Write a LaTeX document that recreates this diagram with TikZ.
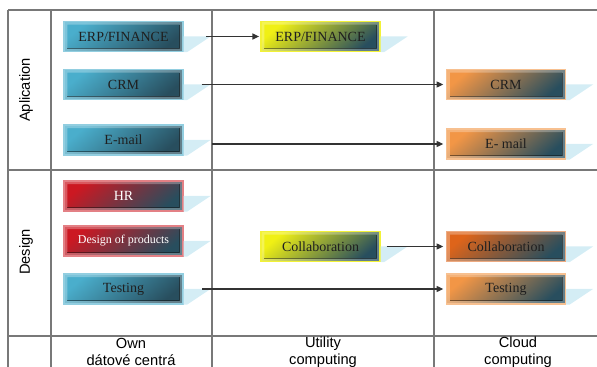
\documentclass[tikz,border=0pt]{standalone}
\usepackage{fontspec}
\setmainfont{Liberation Serif}
\setsansfont{Liberation Sans}
\usetikzlibrary{arrows.meta}
\definecolor{svcblue}{RGB}{74,174,204}
\definecolor{svcred}{RGB}{204,24,34}
\definecolor{svcyellow}{RGB}{240,240,20}
\definecolor{svcorange}{RGB}{242,150,70}
\definecolor{svcburnt}{RGB}{222,100,26}
\definecolor{svcslate}{RGB}{40,78,94}
\definecolor{shadowblue}{RGB}{212,237,245}
\definecolor{gridgray}{RGB}{120,120,120}

\begin{document}
\begin{tikzpicture}[x=0.75pt, y=-0.75pt,
  svcnode/.style={rectangle, font=\fontsize{10.5}{12}\selectfont, text=black!88,
    minimum width=89pt, minimum height=22.5pt, inner sep=0pt, line width=1.1pt,
    path picture={
      \fill[white, opacity=0.28, even odd rule]
        (path picture bounding box.north west) rectangle (path picture bounding box.south east)
        ([shift={(2.4pt,-2.4pt)}]path picture bounding box.north west) rectangle
        ([shift={(-2.4pt,2.4pt)}]path picture bounding box.south east);
      \draw[black, opacity=0.45, line width=0.7pt]
        ([shift={(-2.4pt,-2.4pt)}]path picture bounding box.north east) --
        ([shift={(-2.4pt,2.4pt)}]path picture bounding box.south east) --
        ([shift={(2.4pt,2.4pt)}]path picture bounding box.south west);}},
  bluebox/.style={svcnode, left color=svcblue, middle color=svcblue!88!svcslate, right color=svcslate, shading angle=40, draw=svcblue!60!white},
  redbox/.style={svcnode, left color=svcred, middle color=svcred!80!svcslate, right color=svcslate, shading angle=40, draw=svcred!55!white, text=white},
  yellowbox/.style={svcnode, left color=svcyellow, middle color=svcyellow!85!svcslate, right color=svcslate, shading angle=40, draw=svcyellow!85!white},
  orangebox/.style={svcnode, left color=svcorange, middle color=svcorange!82!svcslate, right color=svcslate, shading angle=40, draw=svcorange!60!white},
  burntbox/.style={svcnode, left color=svcburnt, middle color=svcburnt!82!svcslate, right color=svcslate, shading angle=40, draw=svcburnt!55!white},
  rowlabel/.style={rotate=90, font=\sffamily\fontsize{11}{13}\selectfont},
  collabel/.style={align=center, font=\sffamily\fontsize{11}{12.75}\selectfont},
  flow/.style={-{Triangle[length=5pt,width=4.5pt]}, line width=0.9pt, draw=black!80}]
\useasboundingbox (0,0) rectangle (597,367);
\clip (0,0) rectangle (597,367);
% Grid
\coordinate (c1) at (51,10);
\coordinate (c2) at (212,10);
\coordinate (c3) at (434,10);
\draw[gridgray, line width=1pt] (8,10) -- (597,10) (8,170) -- (597,170) (8,336) -- (597,336);
\draw[gridgray, line width=1pt] (8,10) -- (8,367) (c1) -- (51,367) (c2) -- (212,367) (c3) -- (434,367);
% Row and column titles
\node[rowlabel] (aplic) at (26,90) {Aplication};
\node[rowlabel] (design) at (26,252) {Design};
\node[collabel] (own) at (131,352) {Own\\dátové centrá};
\node[collabel] (utility) at (323,352) {Utility\\computing};
\node[collabel] (cloud) at (518,352) {Cloud\\computing};
% Own data centre
\node[bluebox] (erp) at (123.5,36.5) {ERP/FINANCE};
\node[bluebox] (crm) at (123.5,84.5) {CRM};
\node[bluebox] (mail) at (123.5,140) {E-mail};
\node[redbox] (hr) at (123.5,196) {HR};
\node[redbox, font=\fontsize{9}{11}\selectfont] (dop) at (123.5,241) {Design of products};
\node[bluebox] (test) at (123.5,289) {Testing};
% Utility computing
\node[yellowbox] (erpU) at (320.5,36.5) {ERP/FINANCE};
\node[yellowbox] (collU) at (320.5,246.5) {Collaboration};
% Cloud computing
\node[orangebox] (crmC) at (506,84.5) {CRM};
\node[orangebox] (mailC) at (506,144) {E- mail};
\node[burntbox] (collC) at (506,246.5) {Collaboration};
\node[orangebox] (testC) at (506,289) {Testing};
% Shadows
\foreach \n in {erp,crm,mail,hr,dop,test,erpU,collU,crmC,mailC,collC,testC}
  \fill[shadowblue] (\n.east) -- ++(27,0) -- ([xshift=2.5pt]\n.south east) -- (\n.south east) -- cycle;
% Arrows
\draw[flow] ([xshift=17pt]erp.east) -- ([xshift=-1pt]erpU.west);
\draw[flow] ([xshift=13.5pt]crm.east) -- ([xshift=-2pt]crmC.west);
\draw[flow] (c2 |- mailC.west) -- ([xshift=-2pt]mailC.west);
\draw[flow] ([xshift=4.5pt]collU.east) -- ([xshift=-2pt]collC.west);
\draw[flow] ([xshift=14pt]test.east) -- ([xshift=-2pt]testC.west);
\end{tikzpicture}
\end{document}
